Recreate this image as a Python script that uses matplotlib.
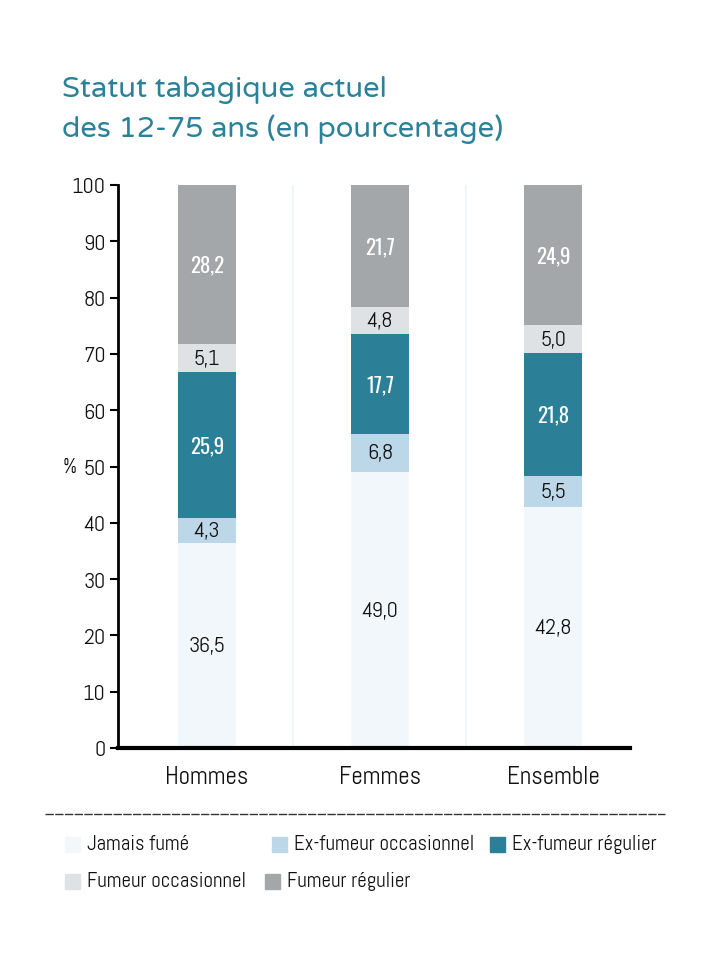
import matplotlib
matplotlib.use("Agg")
from matplotlib import pyplot as plt
from matplotlib.patches import Rectangle
import numpy as np

plt.rcParams['font.family'] = ['Abel', 'DejaVu Sans']

groups = ['Hommes', 'Femmes', 'Ensemble']
series = ['Jamais fumé', 'Ex-fumeur occasionnel', 'Ex-fumeur régulier',
          'Fumeur occasionnel', 'Fumeur régulier']
jamais = [36.5, 49.0, 42.8]
ex_occ = [4.3, 6.8, 5.5]
ex_reg = [25.9, 17.7, 21.8]
fum_occ = [5.1, 4.8, 5.0]
fum_reg = [28.2, 21.7, 24.9]
values = [jamais, ex_occ, ex_reg, fum_occ, fum_reg]

colors = ['#f2f7fb', '#bcd7e8', '#2b7f96', '#dfe2e5', '#a4a7a9']
label_colors = ['#111111', '#111111', 'white', '#111111', 'white']
title_color = '#2a8299'

fig = plt.figure(figsize=(7.13, 9.54), dpi=100)
ax = fig.add_axes([118 / 713, 205 / 954, (630 - 118) / 713, (749 - 186) / 954])

x = np.arange(len(groups))
width = 0.335
bottom = np.zeros(len(groups))
for vals, col, lc in zip(values, colors, label_colors):
    vals = np.array(vals)
    ax.bar(x, vals, width, bottom=bottom, color=col, zorder=2)
    for xi, b, v in zip(x, bottom, vals):
        txt = f'{v:.1f}'.replace('.', ',')
        if lc == 'white':
            ax.text(xi, b + v / 2, txt, ha='center', va='center', color=lc,
                    fontsize=15, family=['Oswald', 'DejaVu Sans'], zorder=3)
        else:
            ax.text(xi, b + v / 2, txt, ha='center', va='center', color=lc,
                    fontsize=16, zorder=3)
    bottom += vals

# faint separators between groups
for sx in [0.5, 1.5]:
    ax.axvline(sx, color='#eef3f6', lw=1.2, zorder=1)

ax.set_xlim(-0.514, 2.445)
ax.set_ylim(0, 100)
ax.set_yticks(np.arange(0, 101, 10))
ax.tick_params(axis='y', labelsize=16, length=6, width=1.5, direction='out', pad=3,
               labelcolor='#111111')
ax.set_xticks(x)
ax.set_xticklabels(groups, fontsize=18, color='#111111')
ax.tick_params(axis='x', length=0, pad=12)
for s in ['top', 'right']:
    ax.spines[s].set_visible(False)
ax.spines['left'].set_linewidth(2)
ax.spines['bottom'].set_linewidth(3)
ax.set_ylabel('%', rotation=0, fontsize=15, va='center')
ax.yaxis.set_label_coords(-0.095, 0.5)

title_font = ['Varela Round', 'DejaVu Sans']
fig.text(62 / 713, 1 - 90 / 954, 'Statut tabagique actuel', fontsize=21,
         color=title_color, family=title_font, va='center')
fig.text(62 / 713, 1 - 129 / 954, 'des 12-75 ans (en pourcentage)', fontsize=21,
         color=title_color, family=title_font, va='center')

fig.add_artist(plt.Line2D([45 / 713, 665 / 713], [1 - 815 / 954, 1 - 815 / 954],
                          color='#333333', lw=1, linestyle=(0, (6, 1))))

# legend entries placed in two rows like the reference
leg_pos = [(65, 845), (272, 845), (490, 845), (65, 882), (265, 882)]
for (px, py), col, name in zip(leg_pos, colors, series):
    fig.add_artist(Rectangle((px / 713, 1 - (py + 8) / 954), 15 / 713, 15 / 954,
                             transform=fig.transFigure, color=col))
    fig.text((px + 22) / 713, 1 - py / 954, name, fontsize=15, va='center',
             color='#111111')

fig.savefig('out.png', dpi=100, facecolor='white')
